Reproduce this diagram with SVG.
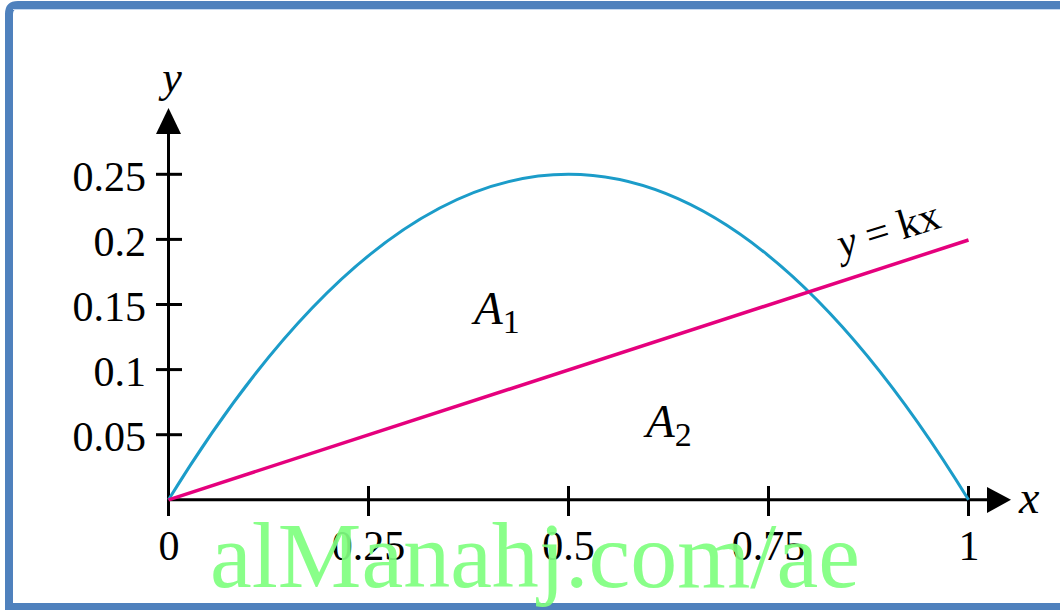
<svg xmlns="http://www.w3.org/2000/svg" width="1060" height="610" viewBox="0 0 1060 610">
<style>
.ax{stroke:#000;stroke-width:3;fill:none}
.tl{font-family:"Liberation Serif","Times New Roman",serif;font-size:42px;fill:#000}
.it{font-family:"Liberation Serif","Times New Roman",serif;font-style:italic;fill:#000}
</style>
<rect x="0" y="0" width="1060" height="610" fill="#fff"/>
<g id="frame">
<path d="M9 610 V14 Q9 5 18 5 H1070" fill="none" stroke="#4f81bd" stroke-width="8"/>
<line x1="9" y1="606.5" x2="1070" y2="606.5" stroke="#4f81bd" stroke-width="7"/>
<line x1="13" y1="9.5" x2="1060" y2="9.5" stroke="#c6d9f1" stroke-width="1"/>
</g>
<g id="axes">
<line class="ax" x1="168.5" y1="516" x2="168.5" y2="132"/>
<line class="ax" x1="168.5" y1="499.8" x2="988" y2="499.8"/>
<polygon points="168.5,108 156,134 181,134" fill="#000"/>
<polygon points="1011,499.8 987,487 987,513" fill="#000"/>
<g class="ax">
<line x1="156" y1="174.3" x2="182" y2="174.3"/>
<line x1="156" y1="239.4" x2="182" y2="239.4"/>
<line x1="156" y1="304.5" x2="182" y2="304.5"/>
<line x1="156" y1="369.6" x2="182" y2="369.6"/>
<line x1="156" y1="434.7" x2="182" y2="434.7"/>
<line x1="368.5" y1="486" x2="368.5" y2="516"/>
<line x1="568.5" y1="486" x2="568.5" y2="516"/>
<line x1="768.5" y1="486" x2="768.5" y2="516"/>
<line x1="968.5" y1="486" x2="968.5" y2="516"/>
</g>
</g>
<g id="ticklabels" class="tl">
<text x="146" y="191" text-anchor="end">0.25</text>
<text x="146" y="256" text-anchor="end">0.2</text>
<text x="146" y="321" text-anchor="end">0.15</text>
<text x="146" y="386" text-anchor="end">0.1</text>
<text x="146" y="451" text-anchor="end">0.05</text>
<text x="169" y="560" text-anchor="middle">0</text>
<text x="368.5" y="560" text-anchor="middle">0.25</text>
<text x="568.5" y="560" text-anchor="middle">0.5</text>
<text x="768.5" y="560" text-anchor="middle">0.75</text>
<text x="969" y="560" text-anchor="middle">1</text>
</g>
<g id="axislabels">
<text class="it" x="172" y="92" font-size="44" text-anchor="middle">y</text>
<text class="it" x="1019" y="513" font-size="46">x</text>
</g>
<g id="curves">
<path id="parabola" d="M168.5 499.8 Q568.5 -151.2 968.5 499.8" fill="none" stroke="#1b9cc9" stroke-width="3"/>
<line id="line-kx" x1="168.5" y1="499.8" x2="968.5" y2="240" stroke="#e5007d" stroke-width="3.5"/>
</g>
<g id="labels">
<text class="it" x="842" y="258" font-size="42" transform="rotate(-17 842 258)">y <tspan font-style="normal">= kx</tspan></text>
<text class="it" x="474" y="324" font-size="47">A<tspan font-style="normal" font-size="34" dy="9">1</tspan></text>
<text class="it" x="646" y="437" font-size="47">A<tspan font-style="normal" font-size="34" dy="9">2</tspan></text>
</g>
<text id="watermark" x="210" y="587" font-family="'Liberation Serif','Times New Roman',serif" font-size="94" fill="#80ff80" opacity="0.92">alManahj.com/ae</text>
</svg>
